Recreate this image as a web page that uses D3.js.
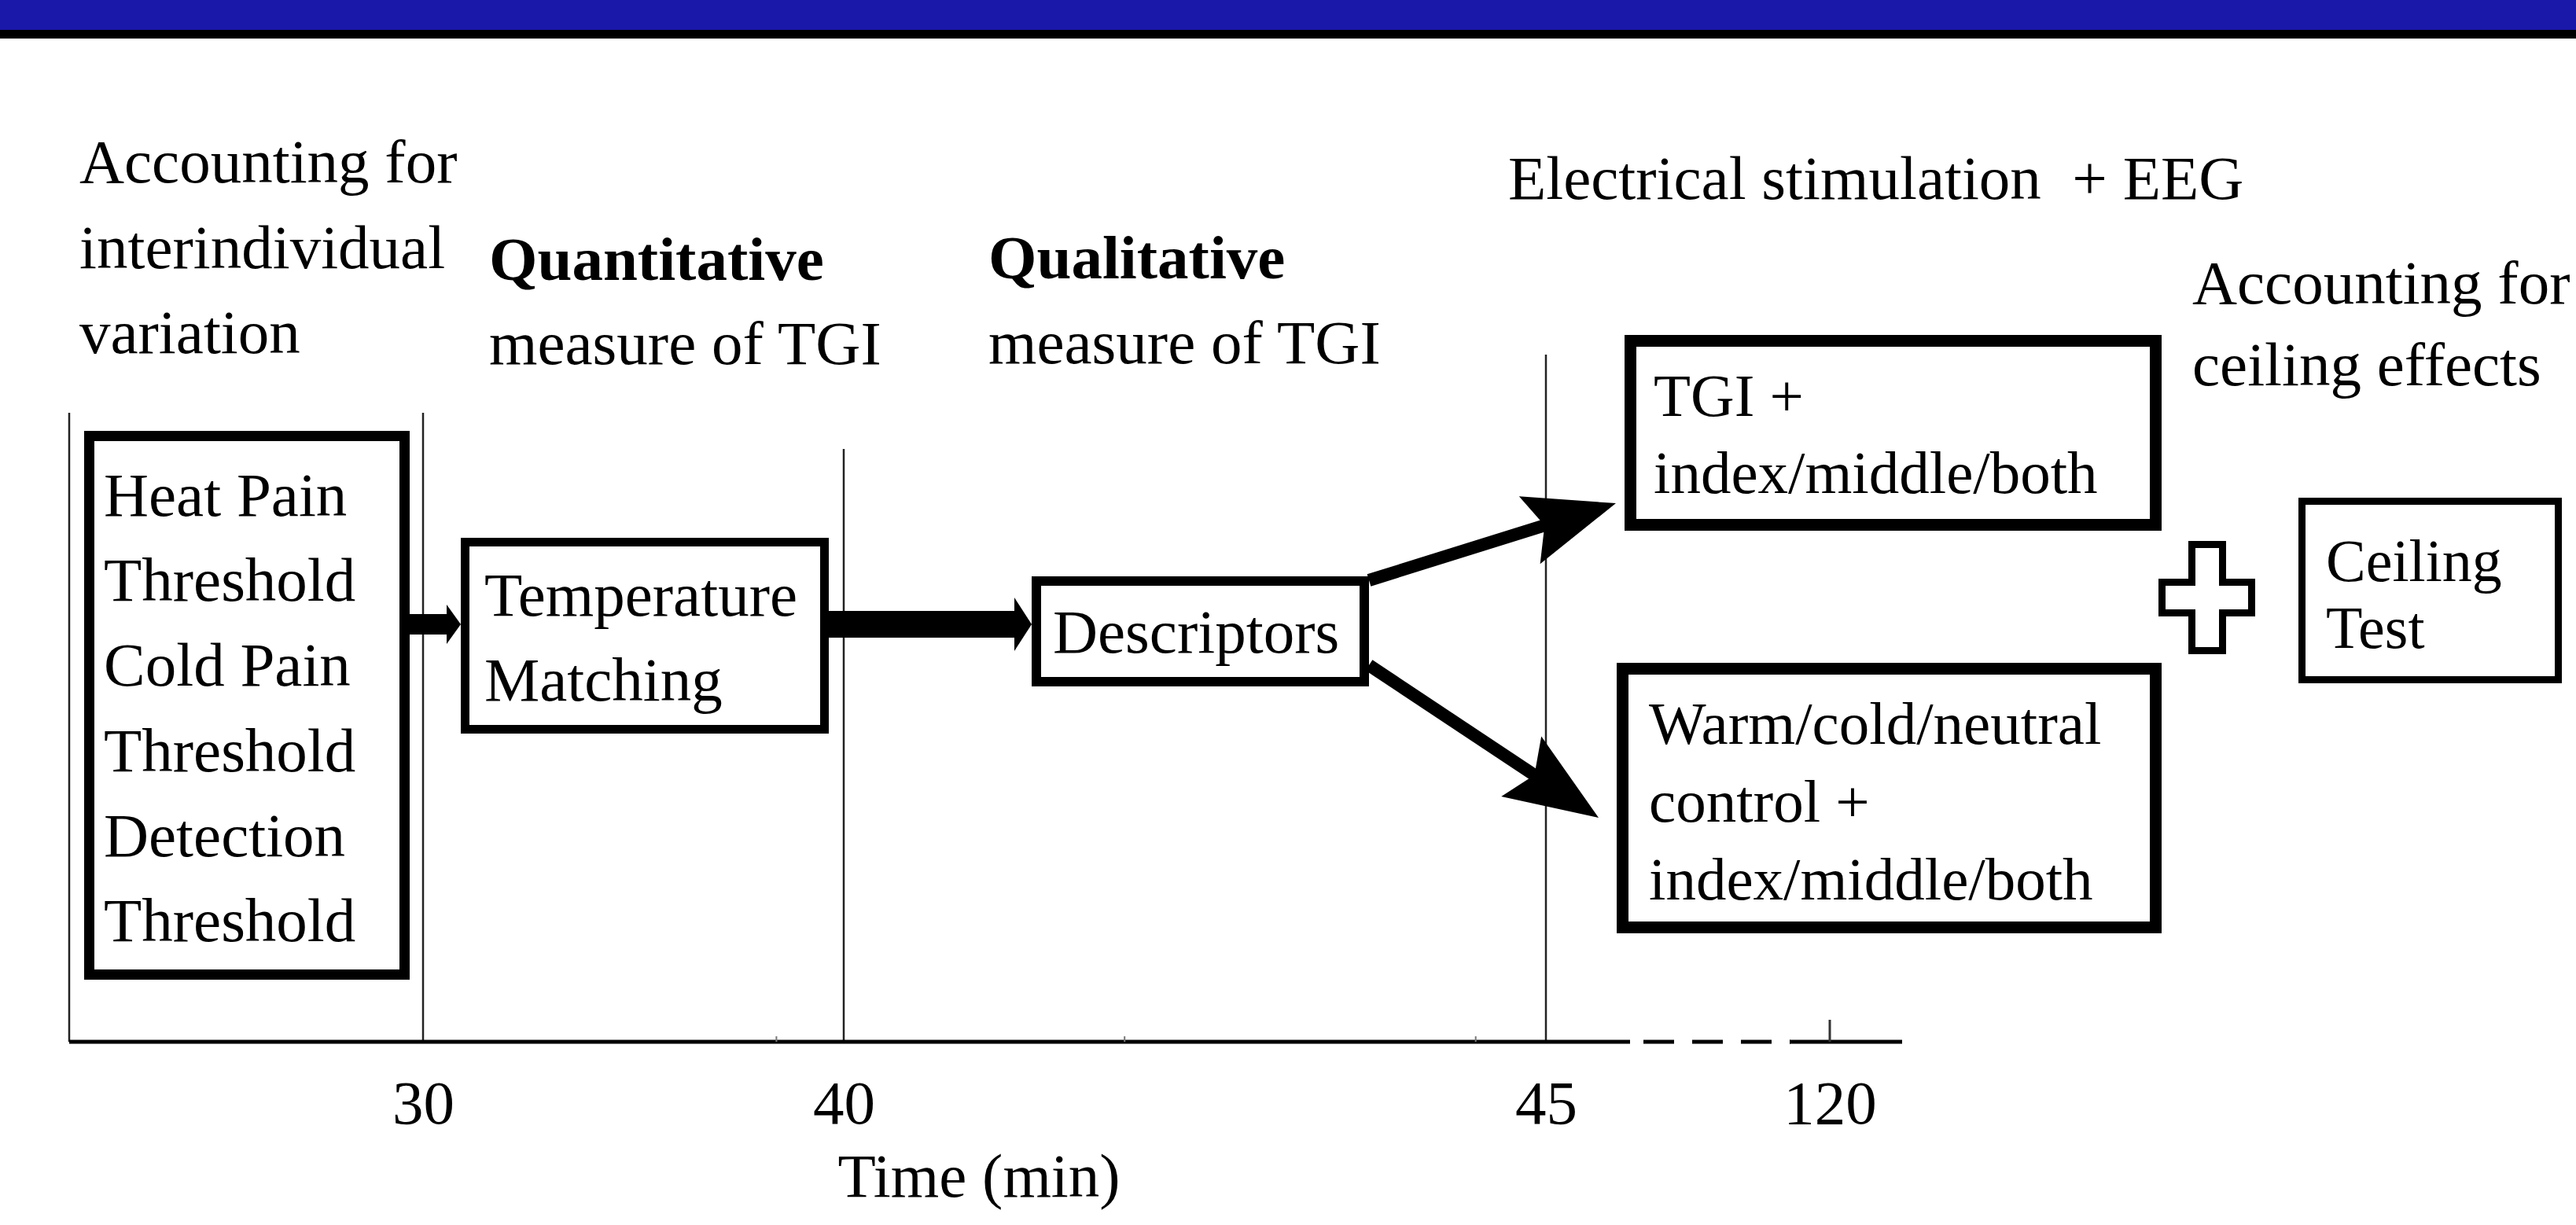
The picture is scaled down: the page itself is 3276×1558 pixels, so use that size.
<!DOCTYPE html>
<html>
<head>
<meta charset="utf-8">
<script src="https://cdn.jsdelivr.net/npm/d3@7"></script>
<style>
  body { margin: 0; background: #fff; }
  svg { display: block; }
  text { font-family: "Liberation Serif", "Times New Roman", serif; fill: #000; white-space: pre; }
</style>
</head>
<body>
<div id="chart"></div>
<script>
// ---- data ----
const tickValues = [30, 40, 45, 120];
const tickLabels = ['30', '40', '45', '120'];
const phaseBounds = [0, 30, 40, 45];
const minorTicks = [38.4, 42, 44.5];
const axisTitle = 'Time (min)';

const headingLeft = ['Accounting for', 'interindividual', 'variation'];
const headingQuant = ['Quantitative', 'measure of TGI'];
const headingQual = ['Qualitative', 'measure of TGI'];
const headingStim = ['Electrical stimulation  + EEG'];
const headingCeil = ['Accounting for', 'ceiling effects'];

const boxThresholds = ['Heat Pain', 'Threshold', 'Cold Pain', 'Threshold', 'Detection', 'Threshold'];
const boxMatching = ['Temperature', 'Matching'];
const boxDescriptors = ['Descriptors'];
const boxTgi = ['TGI +', 'index/middle/both'];
const boxControl = ['Warm/cold/neutral', 'control +', 'index/middle/both'];
const boxCeiling = ['Ceiling', 'Test'];

// ---- layout ----
const W = 3276, H = 1558;
const axisY = 1325;
const fontSize = 79;

const svg = d3.select('#chart')
    .append('svg')
    .attr('width', W)
    .attr('height', H);

// banner
svg.append('rect').attr('x', 0).attr('y', 0).attr('width', W).attr('height', 38).attr('fill', '#1a18a8');
svg.append('rect').attr('x', 0).attr('y', 38).attr('width', W).attr('height', 11).attr('fill', '#000');

// piecewise time scale (axis is not linear in the figure)
const x = d3.scaleLinear()
    .domain([0, 30, 40, 45, 120, 135])
    .range([88, 538, 1073, 1966, 2327, 2419]);

// phase boundary lines
const boundTops = [525, 525, 571, 451];
svg.selectAll('.bound')
    .data(phaseBounds)
    .enter()
    .append('line')
    .attr('class', 'bound')
    .attr('x1', d => x(d))
    .attr('x2', d => x(d))
    .attr('y1', (d, i) => boundTops[i])
    .attr('y2', axisY)
    .attr('stroke', '#222')
    .attr('stroke-width', 2.5);

// axis line: solid, dashed break, solid
const axisG = svg.append('g');
axisG.append('line')
    .attr('x1', x(0)).attr('x2', 2073)
    .attr('y1', axisY).attr('y2', axisY)
    .attr('stroke', '#000').attr('stroke-width', 5);
axisG.append('line')
    .attr('x1', 2090).attr('x2', 2277)
    .attr('y1', axisY).attr('y2', axisY)
    .attr('stroke', '#000').attr('stroke-width', 5)
    .attr('stroke-dasharray', '39,23');
axisG.append('line')
    .attr('x1', 2276).attr('x2', x(135))
    .attr('y1', axisY).attr('y2', axisY)
    .attr('stroke', '#000').attr('stroke-width', 5);

axisG.append('line')
    .attr('x1', x(120)).attr('x2', x(120))
    .attr('y1', axisY - 28).attr('y2', axisY)
    .attr('stroke', '#333').attr('stroke-width', 3);

axisG.selectAll('.minor')
    .data(minorTicks)
    .enter()
    .append('line')
    .attr('x1', d => x(d)).attr('x2', d => x(d))
    .attr('y1', axisY - 7).attr('y2', axisY)
    .attr('stroke', '#777').attr('stroke-width', 2);

const axis = svg.append('g')
    .attr('transform', `translate(0, ${axisY})`)
    .call(d3.axisBottom(x)
        .tickValues(tickValues)
        .tickFormat((d, i) => tickLabels[i])
        .tickSize(0)
        .tickPadding(48));
axis.select('.domain').remove();
axis.attr('font-size', null).attr('font-family', null);
axis.selectAll('text')
    .style('font-size', fontSize + 'px')
    .attr('fill', '#000');

svg.append('text')
    .attr('x', 1245)
    .attr('y', 1522)
    .attr('text-anchor', 'middle')
    .style('font-size', fontSize + 'px')
    .text(axisTitle);

// text blocks
function textBlock(lines, x0, y0, step, size, boldFirst) {
    const t = svg.append('text').style('font-size', size + 'px');
    t.selectAll('tspan')
        .data(lines)
        .enter()
        .append('tspan')
        .attr('x', x0)
        .attr('y', (d, i) => y0 + i * step)
        .style('font-weight', (d, i) => boldFirst && i === 0 ? 'bold' : 'normal')
        .text(d => d);
}

textBlock(headingLeft, 101, 232, 108.5, fontSize, false);
textBlock(headingQuant, 622, 356, 107, fontSize, true);
textBlock(headingQual, 1257, 354, 108, fontSize, true);
textBlock(headingStim, 1918, 253, 0, fontSize, false);
textBlock(headingCeil, 2788, 386, 104, fontSize, false);

// boxes
function box(x0, y0, x1, y1, sw) {
    svg.append('rect')
        .attr('x', x0 + sw / 2)
        .attr('y', y0 + sw / 2)
        .attr('width', x1 - x0 - sw)
        .attr('height', y1 - y0 - sw)
        .attr('fill', '#fff')
        .attr('stroke', '#000')
        .attr('stroke-width', sw);
}

box(107, 548, 521, 1246, 13);
textBlock(boxThresholds, 132, 656, 108.2, fontSize, false);

box(586, 684, 1054, 933, 11);
textBlock(boxMatching, 616, 783, 108, fontSize, false);

box(1312, 733, 1741, 873, 12);
textBlock(boxDescriptors, 1339, 830, 0, fontSize, false);

box(2066, 426, 2749, 675, 15);
textBlock(boxTgi, 2103, 529, 98, 77, false);

box(2056, 843, 2749, 1187, 15);
textBlock(boxControl, 2097, 946, 99, 77, false);

box(2923, 633, 3258, 869, 9);
textBlock(boxCeiling, 2958, 739, 85, 76, false);

// arrows
function arrow(x1, y1, x2, y2, shaftW, headLen, headHalf, notch) {
    const dx = x2 - x1, dy = y2 - y1;
    const len = Math.hypot(dx, dy);
    const ux = dx / len, uy = dy / len;
    const px = -uy, py = ux;
    svg.append('line')
        .attr('x1', x1).attr('y1', y1)
        .attr('x2', x2 - ux * (notch - 2)).attr('y2', y2 - uy * (notch - 2))
        .attr('stroke', '#000')
        .attr('stroke-width', shaftW);
    const pts = [
        [x2, y2],
        [x2 - ux * headLen + px * headHalf, y2 - uy * headLen + py * headHalf],
        [x2 - ux * notch, y2 - uy * notch],
        [x2 - ux * headLen - px * headHalf, y2 - uy * headLen - py * headHalf]
    ];
    svg.append('path')
        .attr('d', d3.line()(pts) + 'Z')
        .attr('fill', '#000');
}

arrow(521, 794, 586, 794, 26, 18, 25, 18);
arrow(1054, 794, 1312, 794, 34, 22, 34, 22);
arrow(1741, 738, 2055, 640, 16, 115, 45, 95);
arrow(1741, 846, 2033, 1040, 16, 118, 46, 98);

// plus sign
const plus = [
    [2787.5, 692.5], [2826.5, 692.5], [2826.5, 740.5], [2863.5, 740.5],
    [2863.5, 779.5], [2826.5, 779.5], [2826.5, 827.5], [2787.5, 827.5],
    [2787.5, 779.5], [2749.5, 779.5], [2749.5, 740.5], [2787.5, 740.5]
];
svg.append('path')
    .attr('d', d3.line()(plus) + 'Z')
    .attr('fill', '#fff')
    .attr('stroke', '#000')
    .attr('stroke-width', 9)
    .attr('stroke-linejoin', 'miter');
</script>
</body>
</html>
